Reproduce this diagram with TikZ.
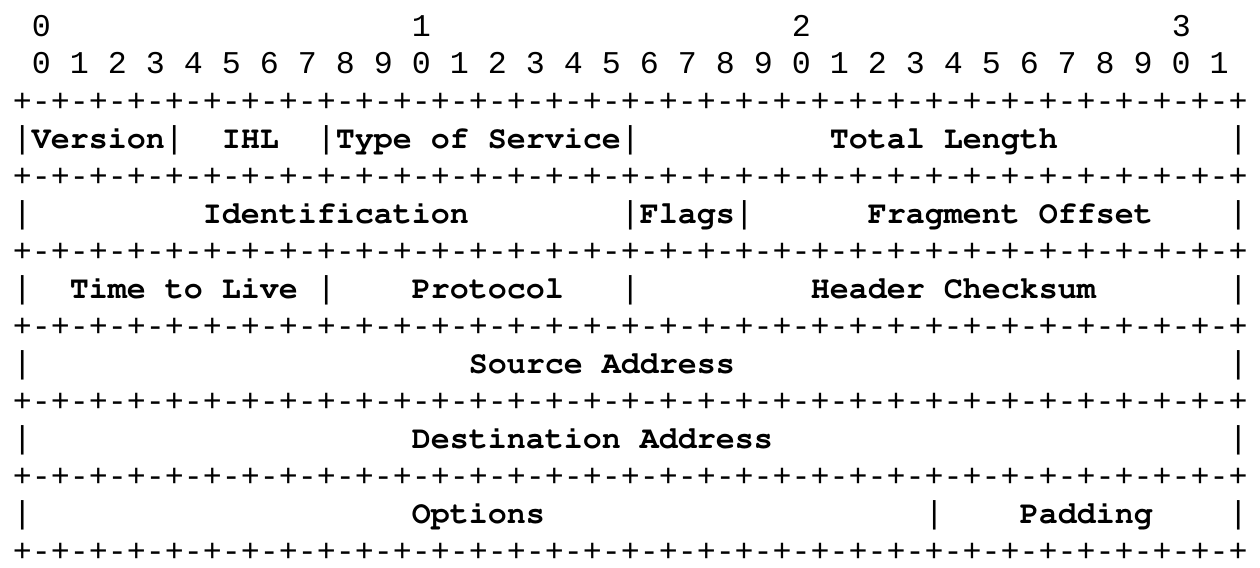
\documentclass[tikz,border=0pt]{standalone}
\usepackage[T1,TU]{fontenc}
\usepackage{fontspec}
\usepackage{tikz}
\newfontfamily\gridfont{Liberation Mono}
\newcommand{\fieldfont}{\fontencoding{T1}\fontfamily{pcr}\fontseries{b}\fontsize{15.83pt}{19pt}\selectfont}

\begin{document}
\begin{tikzpicture}[x=9.5pt,y=-18.75pt,
		grid/.style={font=\gridfont\fontsize{15.83pt}{19pt}\selectfont, anchor=base west, inner sep=0pt},
		field/.style={font=\fieldfont, anchor=base west, inner sep=0pt}]
			\fill [white] (-0.658,-0.967) rectangle (65.658,14.18);
			\useasboundingbox (-0.658,-0.967) rectangle (65.658,14.18);
			% bit numbers
			\node [grid] (tens0) at (1,0) {0};
			\node [grid] (tens1) at (21,0) {1};
			\node [grid] (tens2) at (41,0) {2};
			\node [grid] (tens3) at (61,0) {3};
			\node [grid] (units) at (1,1) {0 1 2 3 4 5 6 7 8 9 0 1 2 3 4 5 6 7 8 9 0 1 2 3 4 5 6 7 8 9 0 1};
			% rules
			\node [grid] (rule0) at (0,2) {+-+-+-+-+-+-+-+-+-+-+-+-+-+-+-+-+-+-+-+-+-+-+-+-+-+-+-+-+-+-+-+-+};
			\node [grid] (rule1) at (0,4) {+-+-+-+-+-+-+-+-+-+-+-+-+-+-+-+-+-+-+-+-+-+-+-+-+-+-+-+-+-+-+-+-+};
			\node [grid] (rule2) at (0,6) {+-+-+-+-+-+-+-+-+-+-+-+-+-+-+-+-+-+-+-+-+-+-+-+-+-+-+-+-+-+-+-+-+};
			\node [grid] (rule3) at (0,8) {+-+-+-+-+-+-+-+-+-+-+-+-+-+-+-+-+-+-+-+-+-+-+-+-+-+-+-+-+-+-+-+-+};
			\node [grid] (rule4) at (0,10) {+-+-+-+-+-+-+-+-+-+-+-+-+-+-+-+-+-+-+-+-+-+-+-+-+-+-+-+-+-+-+-+-+};
			\node [grid] (rule5) at (0,12) {+-+-+-+-+-+-+-+-+-+-+-+-+-+-+-+-+-+-+-+-+-+-+-+-+-+-+-+-+-+-+-+-+};
			\node [grid] (rule6) at (0,14) {+-+-+-+-+-+-+-+-+-+-+-+-+-+-+-+-+-+-+-+-+-+-+-+-+-+-+-+-+-+-+-+-+};
			% first word
			\node [grid] (bar3a) at (0,3) {|};
			\node [grid] (bar3b) at (8,3) {|};
			\node [grid] (bar3c) at (16,3) {|};
			\node [grid] (bar3d) at (32,3) {|};
			\node [grid] (bar3e) at (64,3) {|};
			\node [field] (version) at (1,3) {Version};
			\node [field] (ihl) at (11,3) {IHL};
			\node [field] (tos) at (17,3) {Type of Service};
			\node [field] (totlen) at (43,3) {Total Length};
			% second word
			\node [grid] (bar5a) at (0,5) {|};
			\node [grid] (bar5b) at (32,5) {|};
			\node [grid] (bar5c) at (38,5) {|};
			\node [grid] (bar5d) at (64,5) {|};
			\node [field] (ident) at (10,5) {Identification};
			\node [field] (flags) at (33,5) {Flags};
			\node [field] (fragoff) at (45,5) {Fragment Offset};
			% third word
			\node [grid] (bar7a) at (0,7) {|};
			\node [grid] (bar7b) at (16,7) {|};
			\node [grid] (bar7c) at (32,7) {|};
			\node [grid] (bar7d) at (64,7) {|};
			\node [field] (ttl) at (3,7) {Time to Live};
			\node [field] (proto) at (21,7) {Protocol};
			\node [field] (chksum) at (42,7) {Header Checksum};
			% addresses
			\node [grid] (bar9a) at (0,9) {|};
			\node [grid] (bar9b) at (64,9) {|};
			\node [field] (srcaddr) at (24,9) {Source Address};
			\node [grid] (bar11a) at (0,11) {|};
			\node [grid] (bar11b) at (64,11) {|};
			\node [field] (dstaddr) at (21,11) {Destination Address};
			% options
			\node [grid] (bar13a) at (0,13) {|};
			\node [grid] (bar13b) at (48,13) {|};
			\node [grid] (bar13c) at (64,13) {|};
			\node [field] (options) at (21,13) {Options};
			\node [field] (padding) at (53,13) {Padding};
		\end{tikzpicture}
\end{document}
